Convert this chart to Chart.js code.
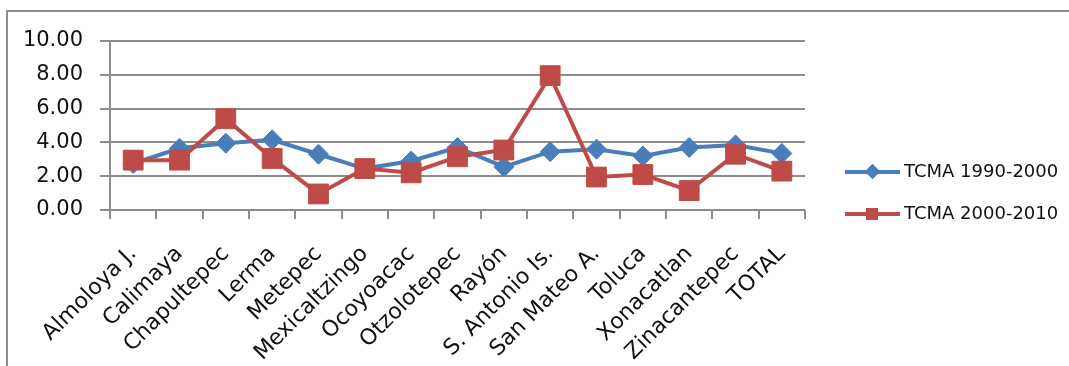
<!DOCTYPE html>
<html>
<head>
<meta charset="utf-8">
<script src="https://cdn.jsdelivr.net/npm/chart.js@4"></script>
<style>
    body { margin: 0; background: #fff; overflow: hidden; }
    #wrap { position: relative; width: 1069px; height: 366px; }
    #frame { position: absolute; left: 6px; top: 10px; right: -10px; bottom: -10px;
             border-left: 2px solid #8c8c8c; border-top: 2px solid #8c8c8c; }
    #chart { position: absolute; left: 0; top: 0; }
    .legend-item { position: absolute; left: 845px; height: 20px;
                   font-family: "DejaVu Sans", sans-serif; font-size: 18px; color: #111; }
    .legend-item .line { position: absolute; left: 0; top: 8px; width: 55px; height: 4px; }
    .legend-item .mark { position: absolute; }
    .legend-item span.txt { position: absolute; left: 59px; top: -2px; white-space: nowrap; }
</style>
</head>
<body>
<div id="wrap">
    <div id="frame"></div>
    <canvas id="chart" width="1069" height="366"></canvas>
    <div id="legend"></div>
</div>
<script>
const categories = ['Almoloya J.', 'Calimaya', 'Chapultepec', 'Lerma', 'Metepec', 'Mexicaltzingo',
    'Ocoyoacac', 'Otzolotepec', 'Rayón', 'S. Antonio Is.', 'San Mateo A.', 'Toluca',
    'Xonacatlan', 'Zinacantepec', 'TOTAL'];
const tcma1990 = [2.75, 3.65, 3.95, 4.15, 3.3, 2.45, 2.9, 3.7, 2.55, 3.45, 3.6, 3.2, 3.7, 3.85, 3.35];
const tcma2000 = [2.95, 2.95, 5.4, 3.05, 0.95, 2.45, 2.2, 3.15, 3.55, 7.95, 1.95, 2.1, 1.15, 3.3, 2.3];
const yTicks = [0, 2, 4, 6, 8, 10];

const blue = '#4a7ebb';
const red = '#be4b48';

document.addEventListener('DOMContentLoaded', function() {
    const ctx = document.getElementById('chart').getContext('2d');
    const chart = new Chart(ctx, {
        type: 'line',
        data: {
            labels: categories,
            datasets: [{
                label: 'TCMA 1990-2000',
                data: tcma1990,
                order: 1,
                borderColor: blue,
                backgroundColor: blue,
                borderWidth: 4,
                pointStyle: 'rectRot',
                pointRadius: 10,
                pointBorderWidth: 1,
                tension: 0
            }, {
                label: 'TCMA 2000-2010',
                data: tcma2000,
                order: 0,
                borderColor: red,
                backgroundColor: red,
                borderWidth: 4,
                pointStyle: 'rect',
                pointRadius: 14,
                pointBorderWidth: 1,
                tension: 0
            }]
        },
        options: {
            responsive: false,
            animation: false,
            layout: { padding: { left: 0, right: 264, top: 41, bottom: 0 } },
            plugins: {
                legend: { display: false },
                tooltip: { enabled: false }
            },
            scales: {
                x: {
                    offset: true,
                    grid: { offset: true, drawOnChartArea: false, drawTicks: true, tickLength: 9, color: '#8c8c8c', lineWidth: 2 },
                    border: { display: false },
                    ticks: {
                        autoSkip: false,
                        minRotation: 45,
                        maxRotation: 45,
                        padding: 22,
                        color: '#111',
                        font: { family: 'DejaVu Sans', size: 22 }
                    },
                    afterFit: function(scale) { scale.height = 156; }
                },
                y: {
                    min: 0,
                    max: 10,
                    afterBuildTicks: function(scale) { scale.ticks = yTicks.map(v => ({ value: v })); },
                    grid: { color: '#8c8c8c', lineWidth: 2, tickLength: 10 },
                    border: { display: true, color: '#8c8c8c', width: 2 },
                    ticks: {
                        padding: 17,
                        color: '#111',
                        font: { family: 'DejaVu Sans', size: 21 },
                        callback: v => v.toFixed(2)
                    },
                    afterFit: function(scale) { scale.width = 110; }
                }
            }
        }
    });

    // html legend, line with marker like the original
    const legend = document.getElementById('legend');
    const items = [
        { text: 'TCMA 1990-2000', color: blue, top: 162, mark: 'diamond' },
        { text: 'TCMA 2000-2010', color: red, top: 204, mark: 'square' }
    ];
    items.forEach(item => {
        const el = document.createElement('div');
        el.className = 'legend-item';
        el.style.top = item.top + 'px';
        let markCss;
        if (item.mark === 'diamond') {
            markCss = 'left:22px;top:4px;width:11px;height:11px;transform:rotate(45deg);background:' + item.color;
        } else {
            markCss = 'left:21px;top:4px;width:12px;height:12px;background:' + item.color;
        }
        el.innerHTML = '<div class="line" style="background:' + item.color + '"></div>' +
            '<div class="mark" style="' + markCss + '"></div>' +
            '<span class="txt">' + item.text + '</span>';
        legend.appendChild(el);
    });
});
</script>
</body>
</html>
